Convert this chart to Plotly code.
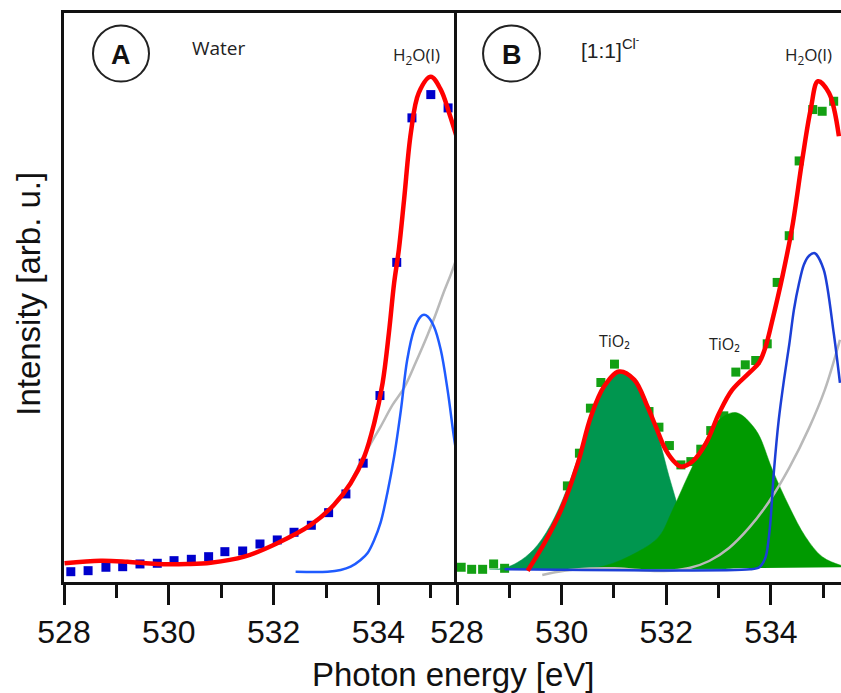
import plotly.graph_objects as go

# ---------------- Panel A : Water ----------------
a_data_x = [528.13, 528.46, 528.80, 529.12, 529.45, 529.78, 530.10, 530.43, 530.76, 531.07, 531.41, 531.74,
            532.07, 532.39, 532.72, 533.05, 533.38, 533.71, 534.03, 534.35, 534.64, 535.00, 535.33]
a_data_y = [1.81, 1.99, 2.59, 2.69, 3.17, 3.29, 3.75, 3.99, 4.45, 5.33, 5.45, 6.68,
            7.39, 8.74, 9.97, 12.19, 15.48, 20.88, 32.77, 56.17, 81.57, 85.66, 83.32]

a_fit_x = [528.01, 528.70, 529.21, 529.78, 530.35, 530.80, 531.44, 532.07, 532.71, 533.15, 533.47, 533.73,
           533.92, 534.08, 534.20, 534.30, 534.39, 534.49, 534.62, 534.77, 535.00, 535.19, 535.35, 535.51]
a_fit_y = [3.29, 3.75, 3.57, 3.17, 3.17, 3.39, 4.45, 6.81, 10.03, 13.54, 17.36, 22.04,
           27.92, 34.95, 43.75, 52.54, 58.40, 67.19, 78.98, 85.96, 88.78, 86.54, 82.44, 77.75]

a_h2o_x = [532.42, 533.03, 533.28, 533.47, 533.66, 533.79, 533.92, 534.04, 534.17, 534.30, 534.43, 534.55,
           534.68, 534.81, 534.87, 534.94, 535.06, 535.19, 535.32, 535.44, 535.51]
a_h2o_y = [1.81, 1.81, 2.11, 2.69, 3.87, 5.05, 7.39, 10.38, 15.60, 22.04, 30.26, 39.05,
           44.33, 46.67, 46.97, 46.67, 44.91, 40.81, 33.77, 25.56, 21.46]

a_bg_x = [532.71, 533.15, 533.47, 533.66, 533.85, 534.04, 534.27, 534.49, 534.71, 534.94, 535.09, 535.25, 535.38, 535.51]
a_bg_y = [10.03, 13.54, 17.59, 21.11, 24.27, 27.26, 31.13, 34.12, 38.52, 43.45, 46.97, 51.01, 54.00, 57.34]

# ---------------- Panel B : [1:1]Cl- ----------------
b_data_x = [528.08, 528.28, 528.49, 528.70, 528.91, 530.11, 530.34, 530.55, 530.75, 531.01, 531.67, 531.86,
            532.06, 532.28, 532.47, 532.66, 532.85, 533.10, 533.33, 533.51, 533.71, 533.93, 534.12, 534.35,
            534.54, 534.80, 534.98, 535.20]
b_data_y = [2.59, 2.23, 2.23, 3.17, 2.41, 16.89, 22.64, 30.55, 35.06, 38.29, 29.96, 27.21,
            23.98, 20.58, 21.16, 23.34, 26.61, 29.20, 36.89, 38.17, 38.93, 41.86, 52.65, 60.86,
            74.00, 83.03, 82.73, 84.49]

b_fit_x = [529.35, 529.67, 529.99, 530.31, 530.56, 530.81, 531.10, 531.39, 531.64, 531.80, 531.99, 532.18,
           532.28, 532.50, 532.76, 533.01, 533.26, 533.58, 533.77, 533.90, 534.03, 534.22, 534.41, 534.60,
           534.76, 534.90, 535.11, 535.30]
b_fit_y = [1.99, 6.81, 12.66, 20.88, 29.08, 34.35, 36.99, 35.53, 30.84, 27.32, 23.22, 20.88,
           20.28, 21.16, 24.40, 29.67, 33.77, 36.71, 38.47, 41.39, 46.09, 53.70, 62.50, 74.23,
           83.03, 88.00, 85.96, 78.33]

b_tio2a_x = [528.62, 528.91, 529.23, 529.54, 529.86, 530.18, 530.50, 530.81, 531.10, 531.45, 531.77, 532.09,
             532.40, 532.72, 533.04, 533.39]
b_tio2a_y = [2.20, 2.46, 3.87, 6.51, 11.26, 18.29, 27.09, 34.30, 36.94, 34.83, 27.97, 17.41,
             8.62, 3.87, 2.64, 2.20]

b_tio2b_x = [530.18, 530.81, 531.45, 531.86, 532.12, 532.44, 532.76, 533.01, 533.33, 533.71, 534.03, 534.35,
             534.66, 534.98, 535.32, 535.50]
b_tio2b_y = [2.20, 2.81, 5.28, 7.97, 12.66, 19.12, 24.98, 28.50, 29.78, 26.74, 19.70, 13.25,
             7.97, 4.45, 2.99, 2.60]

b_h2o_x = [528.91, 533.60, 533.78, 533.90, 533.98, 534.06, 534.15, 534.25, 534.35, 534.44, 534.54, 534.63,
           534.73, 534.84, 535.01, 535.20, 535.32]
b_h2o_y = [2.23, 2.23, 2.60, 4.40, 9.50, 19.70, 28.50, 35.53, 41.69, 47.85, 52.59, 55.76,
           57.34, 57.78, 54.88, 43.80, 35.00]

b_bg_x = [529.63, 530.05, 530.53, 531.01, 531.48, 531.96, 532.44, 532.82, 533.20, 533.58, 533.96, 534.35,
          534.73, 535.03, 535.32]
b_bg_y = [1.23, 1.99, 2.37, 2.41, 2.11, 1.93, 2.46, 3.69, 5.98, 9.50, 14.07, 20.05,
          27.09, 33.77, 42.57]

tick_vals = [528, 530, 532, 534]
tick_text = ["528", "530", "532", "534"]

RED = "#ff0000"
GRAY = "#b9b9b9"

fig = go.Figure()

# Panel A
fig.add_trace(go.Scatter(x=a_data_x, y=a_data_y, mode="markers", xaxis="x", yaxis="y",
                         marker=dict(symbol="square", size=9, color="#0000cc")))
fig.add_trace(go.Scatter(x=a_bg_x, y=a_bg_y, mode="lines", xaxis="x", yaxis="y",
                         line=dict(color=GRAY, width=2.5, shape="spline")))
fig.add_trace(go.Scatter(x=a_h2o_x, y=a_h2o_y, mode="lines", xaxis="x", yaxis="y",
                         line=dict(color="#1f5bff", width=2.5, shape="spline")))
fig.add_trace(go.Scatter(x=a_fit_x, y=a_fit_y, mode="lines", xaxis="x", yaxis="y",
                         line=dict(color=RED, width=4.5, shape="spline")))

# Panel B
fig.add_trace(go.Scatter(x=b_data_x, y=b_data_y, mode="markers", xaxis="x2", yaxis="y2",
                         marker=dict(symbol="square", size=9, color="#13a013")))
fig.add_trace(go.Scatter(x=b_tio2a_x, y=b_tio2a_y, mode="lines", xaxis="x2", yaxis="y2",
                         fill="toself", fillcolor="#00964f",
                         line=dict(color="#00964f", width=0.5, shape="spline")))
fig.add_trace(go.Scatter(x=b_tio2b_x, y=b_tio2b_y, mode="lines", xaxis="x2", yaxis="y2",
                         fill="toself", fillcolor="#009a00",
                         line=dict(color="#009a00", width=0.5, shape="spline")))
fig.add_trace(go.Scatter(x=b_bg_x, y=b_bg_y, mode="lines", xaxis="x2", yaxis="y2",
                         line=dict(color=GRAY, width=2.5, shape="spline")))
fig.add_trace(go.Scatter(x=b_h2o_x, y=b_h2o_y, mode="lines", xaxis="x2", yaxis="y2",
                         line=dict(color="#1c3fd6", width=2.5, shape="spline", smoothing=0.8)))
fig.add_trace(go.Scatter(x=b_fit_x, y=b_fit_y, mode="lines", xaxis="x2", yaxis="y2",
                         line=dict(color=RED, width=4.5, shape="spline")))

tickfont = dict(family="Liberation Sans Narrow, Arial Narrow, Liberation Sans, sans-serif", size=32, color="#111")
common_x = dict(showline=True, linewidth=3, linecolor="#111", mirror=True, ticks="outside",
                ticklen=20, tickwidth=3, tickcolor="#111", tickvals=tick_vals, ticktext=tick_text,
                tickfont=tickfont, showgrid=False, zeroline=False, automargin=False,
                minor=dict(dtick=1, tick0=528, ticks="outside", ticklen=13, tickwidth=3, tickcolor="#111",
                           showgrid=False))
split = (457 - 64) / 777

fig.update_layout(
    width=841, height=693,
    margin=dict(l=64, r=0, t=13, b=111, autoexpand=False),
    paper_bgcolor="white", plot_bgcolor="white",
    showlegend=False,
    xaxis=dict(domain=[0, split], range=[528, 535.5], anchor="y", **common_x),
    xaxis2=dict(domain=[split, 1], range=[528, 535.34], anchor="y2", **common_x),
    yaxis=dict(domain=[0, 1], range=[0, 100], anchor="x", showline=True, mirror=False, linewidth=3,
               linecolor="#111", showticklabels=False, ticks="", showgrid=False, zeroline=False,
               automargin=False),
    yaxis2=dict(domain=[0, 1], range=[0, 100], anchor="x2", showline=True, mirror=False, linewidth=3,
                linecolor="#111", showticklabels=False, ticks="", showgrid=False, zeroline=False,
                automargin=False),
    shapes=[
        dict(type="circle", xref="paper", yref="paper", x0=0.0373, x1=0.1094, y0=0.8795, y1=0.978,
             line=dict(color="#222", width=2)),
        dict(type="circle", xref="paper", yref="paper", x0=0.5393, x1=0.6126, y0=0.8795, y1=0.978,
             line=dict(color="#222", width=2)),
    ],
)

lab = dict(family="Open Sans, Liberation Sans, sans-serif", color="#222")
ann = [
    dict(x=0.0734, y=0.927, text="<b>A</b>", font=dict(family="Liberation Sans, Arial, sans-serif", size=27, color="#111")),
    dict(x=0.5766, y=0.927, text="<b>B</b>", font=dict(family="Liberation Sans, Arial, sans-serif", size=27, color="#111")),
    dict(x=0.1995, y=0.9393, text="Water", font=dict(size=19, **lab)),
    dict(x=0.4543, y=0.925, text="H<sub>2</sub>O(l)", font=dict(size=17, **lab)),
    dict(x=0.9588, y=0.925, text="H<sub>2</sub>O(l)", font=dict(size=17, **lab)),
    dict(x=0.7027, y=0.9393, text="[1:1]<sup>Cl<sup>-</sup></sup>",
         font=dict(family="Liberation Sans, Arial, sans-serif", size=21, color="#222")),
    dict(x=0.7079, y=0.4239, text="TiO₂", font=dict(size=16, **lab)),
    dict(x=0.8507, y=0.4186, text="TiO₂", font=dict(size=16, **lab)),
    dict(x=-0.045, y=0.5066, text="Intensity [arb. u.]", textangle=-90,
         font=dict(family="Liberation Sans, Arial, sans-serif", size=33, color="#111")),
    dict(x=0.5013, y=-0.162, text="Photon energy [eV]",
         font=dict(family="Liberation Sans, Arial, sans-serif", size=33, color="#111")),
]
for a in ann:
    fig.add_annotation(xref="paper", yref="paper", showarrow=False, xanchor="center", yanchor="middle", **a)

# remove the default 8px page margin so the 841x693 figure fills the window exactly
fig.write_html("out.html", config={"displayModeBar": False},
               post_script="document.body.style.margin='0';document.body.style.overflow='hidden';")
